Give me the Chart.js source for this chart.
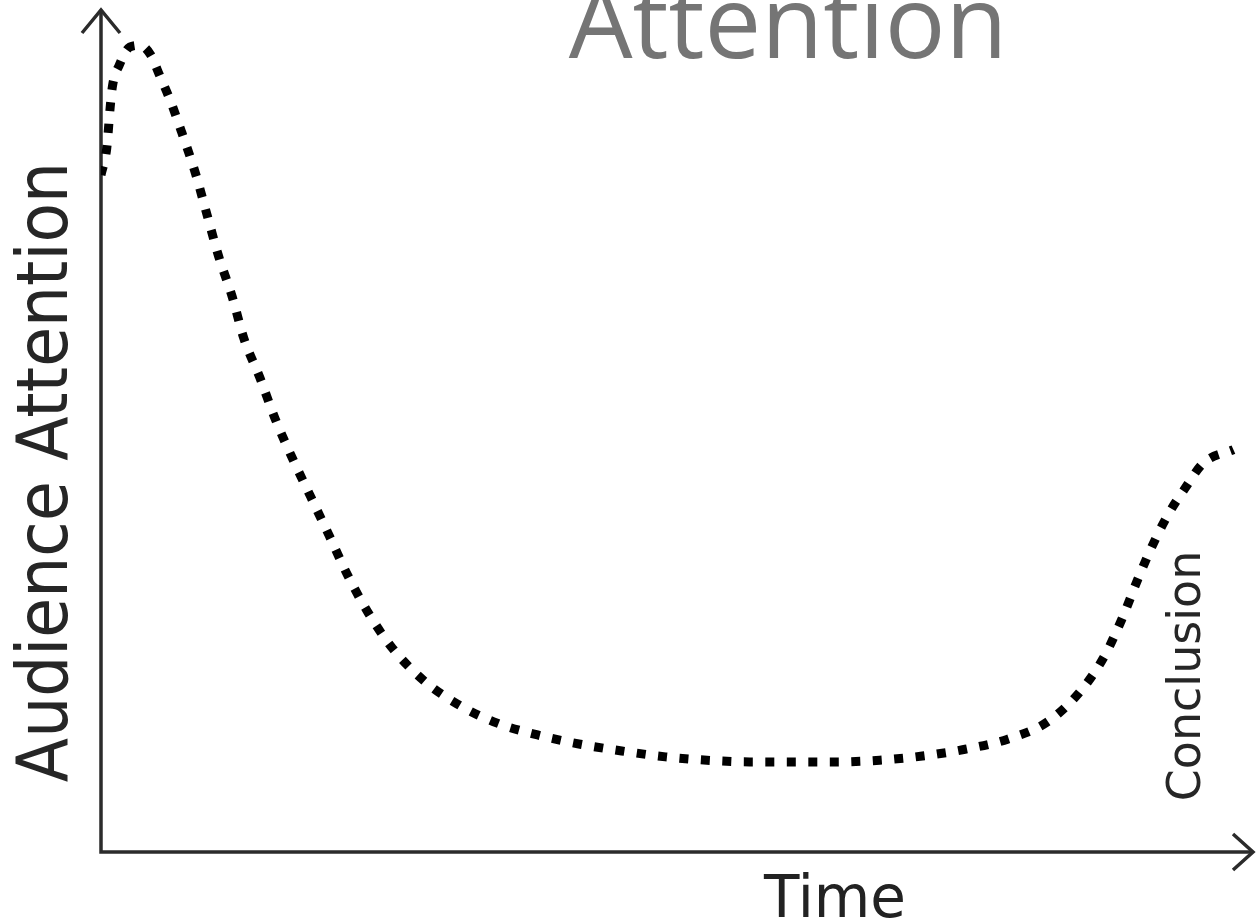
<!DOCTYPE html>
<html>
<head>
<meta charset="utf-8">
<title>Attention</title>
<script src="https://cdn.jsdelivr.net/npm/chart.js@4.4.1/dist/chart.umd.min.js"></script>
<style>
  html, body { margin: 0; padding: 0; background: #fff; }
  #contenedor { width: 1256px; height: 920px; position: relative; }
</style>
</head>
<body>
<div id="contenedor"><canvas id="lineChart"></canvas></div>
<script>
// datos (tiempo 0-100, atencion 0-100)
var tiempo = [0, 0.5, 0.8, 1.0, 1.6, 2.5, 3.4, 4.3, 5.1, 6.0, 7.0, 8.2, 9.2, 10.2, 11.4, 12.4,
  13.8, 15.1, 16.6, 18.2, 19.8, 21.4, 23.2, 25.3, 27.9, 30.9, 34.4, 37.9, 41.6, 45.2, 49.0,
  52.6, 56.3, 60.1, 63.8, 67.6, 71.3, 75.0, 78.7, 82.1, 84.9, 87.0, 88.6, 90.0, 91.2, 92.6,
  94.1, 95.7, 98.3];
var atencion = [80.4, 83.6, 88.5, 91.0, 93.5, 95.6, 95.8, 94.7, 92.2, 89.3, 85.5, 80.6, 75.7,
  70.8, 65.9, 61.0, 56.3, 51.5, 46.8, 42.2, 37.6, 32.9, 28.4, 24.2, 20.5, 17.6, 15.3, 13.9,
  12.8, 12.0, 11.3, 10.9, 10.7, 10.7, 10.7, 10.9, 11.4, 12.2, 13.4, 15.4, 18.9, 23.0, 27.6,
  32.4, 36.2, 40.0, 43.2, 46.2, 47.8];

var titulo = "Attention";
var etiquetaX = "Time";
var etiquetaY = "Audience Attention";
var etiquetaFinal = "Conclusion";

var puntos = [];
for (var i = 0; i < tiempo.length; i++) {
  puntos.push({x: tiempo[i], y: atencion[i]});
}

// ejes con flecha y textos
var ejesPlugin = {
  id: 'ejesFlecha',
  beforeDatasetsDraw: function(chart) {
    var ctx = chart.ctx;
    var a = chart.chartArea;
    ctx.save();
    ctx.strokeStyle = '#2b2b2b';
    ctx.lineWidth = 3.5;
    ctx.lineJoin = 'miter';
    ctx.beginPath();
    ctx.moveTo(a.left, a.top);
    ctx.lineTo(a.left, a.bottom);
    ctx.lineTo(a.right, a.bottom);
    ctx.stroke();
    // flecha arriba
    ctx.beginPath();
    ctx.moveTo(a.left - 19, a.top + 23);
    ctx.lineTo(a.left, a.top);
    ctx.lineTo(a.left + 19, a.top + 23);
    ctx.stroke();
    // flecha derecha
    ctx.beginPath();
    ctx.moveTo(a.right - 20, a.bottom - 18);
    ctx.lineTo(a.right, a.bottom);
    ctx.lineTo(a.right - 20, a.bottom + 18);
    ctx.stroke();
    ctx.restore();
  },
  afterDraw: function(chart) {
    var ctx = chart.ctx;
    ctx.save();
    ctx.textBaseline = 'alphabetic';
    ctx.textAlign = 'center';

    ctx.fillStyle = '#757575';
    ctx.font = '101px "Open Sans"';
    ctx.fillText(titulo, 788, 58);

    ctx.fillStyle = '#222';
    ctx.font = '58px "DejaVu Sans"';
    ctx.fillText(etiquetaX, 835, 917);

    ctx.save();
    ctx.translate(67, 472);
    ctx.rotate(-Math.PI / 2);
    ctx.font = '72px "DejaVu Sans Condensed"';
    ctx.fillStyle = '#262626';
    ctx.fillText(etiquetaY, 0, 0);
    ctx.restore();

    ctx.save();
    ctx.translate(1200, 676);
    ctx.rotate(-Math.PI / 2);
    ctx.font = '46px "DejaVu Sans"';
    ctx.fillStyle = '#262626';
    ctx.fillText(etiquetaFinal, 0, 0);
    ctx.restore();

    ctx.restore();
  }
};

var lineData = {
  datasets: [{
    label: etiquetaY,
    data: puntos,
    borderColor: '#000',
    borderWidth: 9,
    borderDash: [9, 12.5],
    borderCapStyle: 'butt',
    pointRadius: 0,
    fill: false,
    cubicInterpolationMode: 'monotone'
  }]
};

var lineOptions = {
  responsive: true,
  maintainAspectRatio: false,
  animation: false,
  layout: { padding: { left: 101, right: 3, top: 10, bottom: 68 } },
  plugins: {
    legend: { display: false },
    tooltip: { enabled: false },
    title: { display: false }
  },
  scales: {
    x: { type: 'linear', min: 0, max: 100, display: false },
    y: { type: 'linear', min: 0, max: 100, display: false }
  }
};

var ctx = document.getElementById("lineChart").getContext("2d");
var myLineChart = new Chart(ctx, {type: 'line', data: lineData, options: lineOptions, plugins: [ejesPlugin]});
</script>
</body>
</html>
